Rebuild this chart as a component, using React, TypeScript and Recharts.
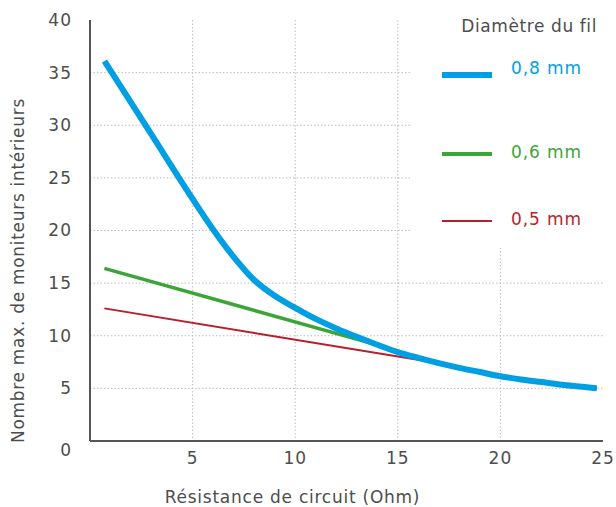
import React from 'react';
import { LineChart, Line, XAxis, YAxis, CartesianGrid, Legend, Label } from 'recharts';

// résistance (Ohm) / nombre max. de moniteurs
const r08 = [0.7, 3, 5, 6, 7, 8, 9, 10, 11, 12, 13, 14, 15, 16, 17, 18, 19, 20, 21, 22, 23, 24, 24.7];
const n08 = [36.1, 29.1, 23.0, 20.1, 17.5, 15.3, 13.8, 12.65, 11.6, 10.7, 9.9, 9.15, 8.45, 7.9, 7.4, 6.95, 6.55, 6.15, 5.85, 5.6, 5.35, 5.15, 5.0];

const r06 = [0.7, 13.5, 14, 15, 16, 17, 18, 19, 20, 21, 22, 23, 24, 24.7];
const n06 = [16.4, 9.4, 9.15, 8.45, 7.9, 7.4, 6.95, 6.55, 6.15, 5.85, 5.6, 5.35, 5.15, 5.0];

const r05 = [0.7, 16.5, 17, 18, 19, 20, 21, 22, 23, 24, 24.7];
const n05 = [12.6, 7.55, 7.4, 6.95, 6.55, 6.15, 5.85, 5.6, 5.35, 5.15, 5.0];

const seriesNames = ['0,8 mm', '0,6 mm', '0,5 mm'];
const xTicks = [5, 10, 15, 20, 25];
const yTicks = [0, 5, 10, 15, 20, 25, 30, 35, 40];
const gridX = [5, 10, 15, 20];
const gridY = [5, 10, 15, 20, 25, 30, 35];

const toPoints = (r: number[], n: number[]) => r.map((x, i) => ({ r: x, n: n[i] }));

const FONT = '"DejaVu Sans", sans-serif';
const TEXT = '#4d4d4d';
const SERIES = [
  { name: seriesNames[0], color: '#009fe3', width: 6, data: toPoints(r08, n08), type: 'monotone' as const },
  { name: seriesNames[1], color: '#3ca538', width: 3.5, data: toPoints(r06, n06), type: 'linear' as const },
  { name: seriesNames[2], color: '#b71f2c', width: 2, data: toPoints(r05, n05), type: 'linear' as const },
];

const YTick = (props: any) => {
  const { x, y, payload } = props;
  const shift = payload.value === 0 ? 9 : 0;
  return (
    <text x={x} y={y + shift} dy="0.35em" textAnchor="end" fill={TEXT} fontSize={17} letterSpacing={1} fontFamily={FONT}>
      {payload.value}
    </text>
  );
};

const LegendBox = () => {
  const rows = [72, 153, 220];
  return (
    <div style={{ position: 'relative', width: 204, height: 248, background: '#fff', fontFamily: FONT }}>
      <div
        style={{
          position: 'absolute',
          right: 19,
          top: 16,
          fontSize: 17,
          letterSpacing: 0.6,
          color: TEXT,
          whiteSpace: 'nowrap',
        }}
      >
        Diamètre du fil
      </div>
      {SERIES.map((s, i) => (
        <div key={s.name} style={{ position: 'absolute', left: 30, top: rows[i] - 10, height: 20, width: 170 }}>
          <div
            style={{
              position: 'absolute',
              left: 0,
              top: 10 + (i === 0 ? 3 : 1) - s.width / 2,
              width: 50,
              height: s.width,
              background: s.color,
            }}
          />
          <div
            style={{
              position: 'absolute',
              left: 69,
              top: i === 0 ? -4 : -1,
              fontSize: 17,
              letterSpacing: 0.9,
              color: s.color,
              whiteSpace: 'nowrap',
              lineHeight: '20px',
            }}
          >
            {s.name}
          </div>
        </div>
      ))}
    </div>
  );
};

export default function App() {
  return (
    <div style={{ position: 'absolute', left: 0, top: 0, background: '#fff' }}>
      <LineChart width={616} height={507} margin={{ top: 20, right: 13, bottom: 0, left: 0 }}>
        <CartesianGrid
          stroke="#bdbdbd"
          strokeDasharray="1.5 2"
          horizontalValues={gridY}
          verticalValues={gridX}
        />
        <XAxis
          type="number"
          dataKey="r"
          domain={[0, 25]}
          ticks={xTicks}
          height={66}
          tickLine={false}
          tickSize={0}
          tickMargin={11}
          axisLine={{ stroke: '#555', strokeWidth: 2 }}
          tick={{ fill: TEXT, fontSize: 17, fontFamily: FONT, letterSpacing: 1 }}
        >
          <Label
            content={({ viewBox }: any) => (
              <text
                x={viewBox.x + viewBox.width / 2 - 54}
                y={viewBox.y + 56}
                dy="0.35em"
                textAnchor="middle"
                fill={TEXT}
                fontSize={17}
                letterSpacing={0.75}
                fontFamily={FONT}
              >
                Résistance de circuit (Ohm)
              </text>
            )}
          />
        </XAxis>
        <YAxis
          type="number"
          domain={[0, 40]}
          ticks={yTicks}
          width={90}
          tickLine={false}
          tickSize={0}
          tickMargin={18}
          axisLine={{ stroke: '#555', strokeWidth: 2 }}
          tick={<YTick />}
        >
          <Label
            content={({ viewBox }: any) => {
              const cx = viewBox.x + 18;
              const cy = viewBox.y + viewBox.height / 2 + 40;
              return (
                <text
                  x={cx}
                  y={cy}
                  dy="0.35em"
                  textAnchor="middle"
                  transform={`rotate(-90, ${cx}, ${cy})`}
                  fill={TEXT}
                  fontSize={17}
                  letterSpacing={0.7}
                  fontFamily={FONT}
                >
                  Nombre max. de moniteurs intérieurs
                </text>
              );
            }}
          />
        </YAxis>
        <Legend
          layout="horizontal"
          align="center"
          verticalAlign="middle"
          content={<LegendBox />}
          wrapperStyle={{ left: 412, top: 0, width: 204, height: 248 }}
        />
        {SERIES.slice().reverse().map((s) => (
          <Line
            key={s.name}
            name={s.name}
            data={s.data}
            dataKey="n"
            type={s.type}
            stroke={s.color}
            strokeWidth={s.width}
            dot={false}
            activeDot={false}
            isAnimationActive={false}
          />
        ))}
      </LineChart>
    </div>
  );
}
